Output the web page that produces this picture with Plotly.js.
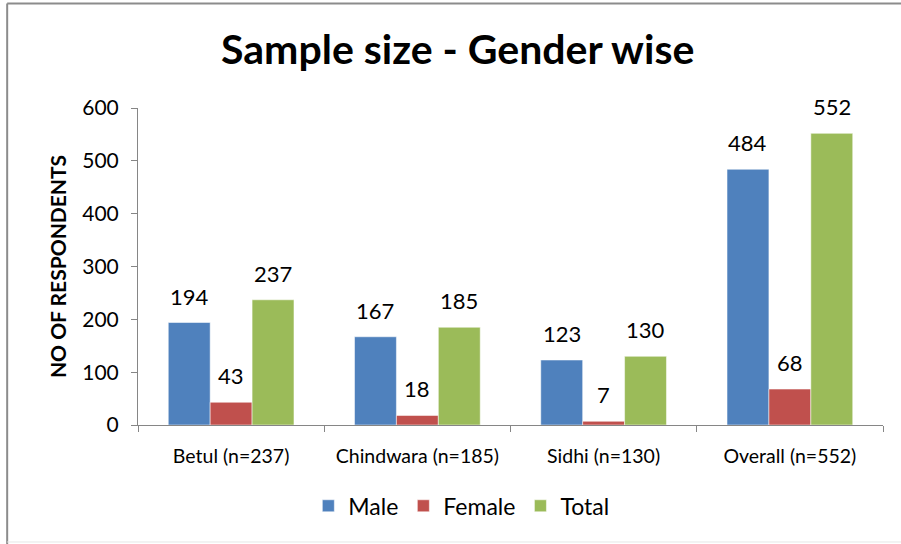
<!DOCTYPE html>
<html>
<head>
<meta charset="utf-8">
<script src="https://cdn.plot.ly/plotly-3.0.1.min.js"></script>
<style>
html,body{margin:0;padding:0;background:#fff;}
#chart{width:901px;height:544px;}
</style>
</head>
<body>
<div id="chart"></div>
<script>
const categories = ["Betul (n=237)", "Chindwara (n=185)", "Sidhi (n=130)", "Overall (n=552)"];
const male = [194, 167, 123, 484];
const female = [43, 18, 7, 68];
const total = [237, 185, 130, 552];
const yTicks = [0, 100, 200, 300, 400, 500, 600];

const FONT = "Lato, 'Open Sans', sans-serif";

const seriesDefs = [
  {name: "Male", values: male, color: "#4F81BD", shift: -42},
  {name: "Female", values: female, color: "#C0504D", shift: 0},
  {name: "Total", values: total, color: "#9BBB59", shift: 42}
];

const data = seriesDefs.map(s => ({
  type: "bar",
  name: s.name,
  x: categories,
  y: s.values,
  marker: {color: s.color, line: {color: "rgba(255,255,255,0.5)", width: 1}}
}));

const annotations = [];
seriesDefs.forEach(s => {
  s.values.forEach((v, i) => {
    annotations.push({
      x: categories[i], y: v, xref: "x", yref: "y",
      text: String(v), showarrow: false,
      xanchor: "center", yanchor: "bottom",
      xshift: s.shift, yshift: 11,
      font: {family: FONT, size: 22, color: "#000"}
    });
  });
});

const layout = {
  width: 901,
  height: 544,
  margin: {l: 138, r: 18, t: 108, b: 119},
  paper_bgcolor: "#fff",
  plot_bgcolor: "#fff",
  font: {family: FONT, color: "#000"},
  title: {
    text: "<b>Sample size - Gender wise</b>",
    font: {family: FONT, size: 41, color: "#000"},
    x: 0.508, xanchor: "center",
    y: 0.909, yanchor: "middle"
  },
  barmode: "group",
  bargap: 0.325,
  bargroupgap: 0,
  showlegend: true,
  legend: {
    orientation: "h",
    x: 0.434, xanchor: "center",
    y: -0.255, yanchor: "middle",
    font: {family: FONT, size: 23, color: "#000"},
    itemwidth: 30,
    traceorder: "normal"
  },
  xaxis: {
    type: "category",
    showline: true,
    linecolor: "#868686",
    linewidth: 1,
    ticks: "outside",
    tickson: "boundaries",
    ticklen: 6,
    tickcolor: "#868686",
    showgrid: false,
    tickfont: {family: FONT, size: 19.5, color: "#000"},
    ticklabelstandoff: 14
  },
  yaxis: {
    range: [0, 600],
    tickvals: yTicks,
    ticktext: yTicks.map(String),
    showline: true,
    linecolor: "#868686",
    linewidth: 1,
    ticks: "outside",
    ticklen: 6,
    tickcolor: "#868686",
    showgrid: false,
    zeroline: false,
    tickfont: {family: FONT, size: 21, color: "#000"},
    ticklabelstandoff: 8,
    title: {
      text: "<b>NO OF RESPONDENTS</b>",
      font: {family: FONT, size: 21, color: "#000"},
      standoff: 9
    }
  },
  annotations: annotations,
  shapes: [
    {type: "line", xref: "paper", yref: "paper", x0: -0.1756, x1: -0.1756, y0: -0.375, y1: 1.33,
     line: {color: "#8c8c8c", width: 2}},
    {type: "line", xref: "paper", yref: "paper", x0: -0.1756, x1: 1.03, y0: 1.33, y1: 1.33,
     line: {color: "#8c8c8c", width: 2}},
    {type: "line", xref: "paper", yref: "paper", x0: -0.1756, x1: 1.03, y0: -0.369, y1: -0.369,
     line: {color: "#e6e6e6", width: 1}}
  ]
};

Plotly.newPlot("chart", data, layout, {displayModeBar: false, staticPlot: true});
</script>
</body>
</html>
